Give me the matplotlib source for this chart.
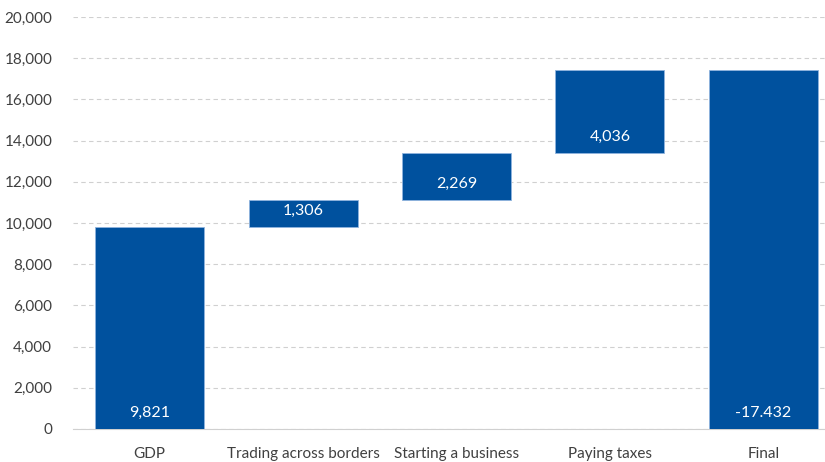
import numpy as np
import matplotlib.pyplot as plt

# waterfall: GDP plus contributions, then the final total
categories = ["GDP", "Trading across borders", "Starting a business", "Paying taxes", "Final"]
steps = [9821, 1306, 2269, 4036]
final_total = 17432
value_labels = ["9,821", "1,306", "2,269", "4,036", "-17.432"]

yticks = np.arange(0, 20001, 2000)

plt.rcParams['font.family'] = ['Lato', 'DejaVu Sans']

bar_color = "#00519e"
edge_color = "#8fb4de"

bottoms = [0]
for s in steps[:-1]:
    bottoms.append(bottoms[-1] + s)
heights = list(steps)
bottoms.append(0)
heights.append(final_total)

fig = plt.figure(figsize=(8.25, 4.62), dpi=100)
ax = fig.add_axes([73 / 825, 1 - 429 / 462, (840 - 73) / 825, (429 - 17) / 462])

x = np.arange(len(categories))
ax.bar(x, heights, bottom=bottoms, width=0.71, color=bar_color,
       edgecolor=edge_color, linewidth=0.6, zorder=3)

for xi, b, lab in zip(x, bottoms, value_labels):
    ax.annotate(lab, (xi, b), xytext=(0, 16), textcoords="offset pixels",
                ha="center", va="center", color="white", fontsize=11.5, zorder=4)

ax.set_xlim(-0.5, 4.5)
ax.set_ylim(0, 20000)
ax.set_yticks(yticks)
ax.set_yticklabels([f"{v:,}" for v in yticks])
ax.set_xticks(x)
ax.set_xticklabels(categories)

ax.yaxis.grid(True, linestyle=(0, (4, 3)), color="#d0d0d0", linewidth=0.8, zorder=0)
for side in ["top", "right", "left"]:
    ax.spines[side].set_visible(False)
ax.spines["bottom"].set_color("#d0d0d0")
ax.tick_params(axis="both", length=0, labelsize=11, colors="#404040")
ax.tick_params(axis="y", pad=15)
ax.tick_params(axis="x", pad=13)

fig.savefig("out.png", dpi=100)
